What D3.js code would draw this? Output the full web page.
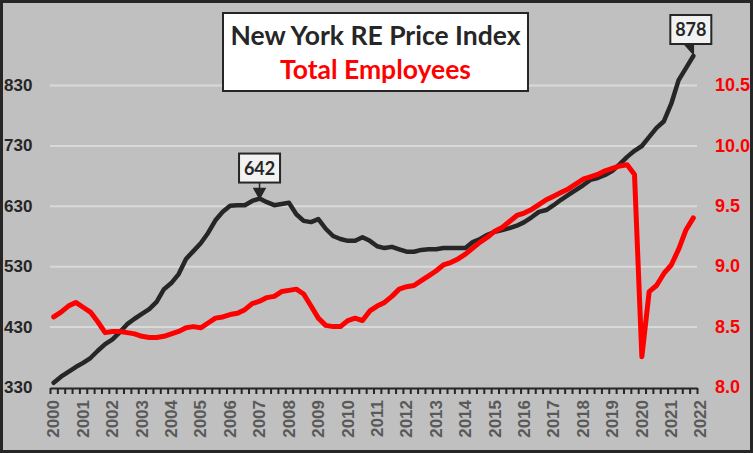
<!DOCTYPE html>
<meta charset="utf-8">
<title>New York RE Price Index vs Total Employees</title>
<style>
  body {
    margin: 0;
    background: #c0c0c0;
  }

  svg {
    display: block;
    font-family: Lato, "Noto Sans", sans-serif;
  }

  .grid line {
    stroke: #d9d9d9;
    stroke-width: 2px;
  }

  .axis-x path,
  .axis-x line {
    stroke: #262626;
    stroke-width: 2px;
  }

  .axis-x text {
    fill: #595959;
    font-size: 17px;
    font-weight: 700;
  }

  .axis-left text {
    fill: #262626;
    font-size: 17px;
    font-weight: 700;
  }

  .axis-right text {
    fill: #ff0000;
    font-size: 18px;
    font-weight: 700;
  }

  .series {
    fill: none;
    stroke-linejoin: round;
    stroke-linecap: round;
  }
</style>
<svg width="753" height="453"></svg>
<script src="https://cdn.jsdelivr.net/npm/d3@7"></script>
<script>
  // quarterly data, 2000Q1 .. 2021Q4
  var quarters = [
    "2000Q1", "2000Q2", "2000Q3", "2000Q4", "2001Q1", "2001Q2", "2001Q3", "2001Q4",
    "2002Q1", "2002Q2", "2002Q3", "2002Q4", "2003Q1", "2003Q2", "2003Q3", "2003Q4",
    "2004Q1", "2004Q2", "2004Q3", "2004Q4", "2005Q1", "2005Q2", "2005Q3", "2005Q4",
    "2006Q1", "2006Q2", "2006Q3", "2006Q4", "2007Q1", "2007Q2", "2007Q3", "2007Q4",
    "2008Q1", "2008Q2", "2008Q3", "2008Q4", "2009Q1", "2009Q2", "2009Q3", "2009Q4",
    "2010Q1", "2010Q2", "2010Q3", "2010Q4", "2011Q1", "2011Q2", "2011Q3", "2011Q4",
    "2012Q1", "2012Q2", "2012Q3", "2012Q4", "2013Q1", "2013Q2", "2013Q3", "2013Q4",
    "2014Q1", "2014Q2", "2014Q3", "2014Q4", "2015Q1", "2015Q2", "2015Q3", "2015Q4",
    "2016Q1", "2016Q2", "2016Q3", "2016Q4", "2017Q1", "2017Q2", "2017Q3", "2017Q4",
    "2018Q1", "2018Q2", "2018Q3", "2018Q4", "2019Q1", "2019Q2", "2019Q3", "2019Q4",
    "2020Q1", "2020Q2", "2020Q3", "2020Q4", "2021Q1", "2021Q2", "2021Q3", "2021Q4"
  ];

  // New York RE price index (left axis)
  var priceIndex = [
    337, 347, 355, 363, 370, 378, 390, 401,
    409, 421, 434, 443, 451, 459, 471, 492,
    502, 517, 542, 555, 568, 585, 606, 620,
    630, 631, 631, 638, 642, 636, 631, 633,
    635, 616, 605, 603, 608, 592, 580, 575,
    572, 572, 578, 572, 563, 560, 562, 558,
    554, 554, 557, 558, 558, 560, 560, 560,
    560, 570, 575, 582, 587, 590, 593, 597,
    603, 611, 620, 623, 631, 640, 648, 656,
    664, 673, 676, 681, 688, 699, 711, 721,
    729, 744, 759, 770, 799, 838, 858, 878
  ];

  // total employees, millions (right axis)
  var employees = [
    8.58, 8.62, 8.67, 8.70, 8.66, 8.62, 8.54, 8.45,
    8.46, 8.46, 8.45, 8.44, 8.42, 8.41, 8.41, 8.42,
    8.44, 8.46, 8.49, 8.50, 8.49, 8.53, 8.57, 8.58,
    8.60, 8.61, 8.64, 8.69, 8.71, 8.74, 8.75, 8.79,
    8.80, 8.81, 8.77, 8.67, 8.57, 8.51, 8.50, 8.50,
    8.55, 8.57, 8.55, 8.63, 8.67, 8.70, 8.75, 8.81,
    8.83, 8.84, 8.88, 8.92, 8.96, 9.01, 9.03, 9.06,
    9.10, 9.15, 9.20, 9.24, 9.29, 9.32, 9.37, 9.42,
    9.44, 9.47, 9.51, 9.55, 9.58, 9.61, 9.64, 9.68,
    9.72, 9.74, 9.76, 9.79, 9.81, 9.83, 9.84, 9.76,
    8.25, 8.79, 8.84, 8.94, 9.01, 9.14, 9.30, 9.40
  ];

  var yearLabels = [
    "2000", "2001", "2002", "2003", "2004", "2005", "2006", "2007", "2008", "2009", "2010",
    "2011", "2012", "2013", "2014", "2015", "2016", "2017", "2018", "2019", "2020", "2021", "2022"
  ];
  var leftTicks = [330, 430, 530, 630, 730, 830];
  var rightTicks = [8.0, 8.5, 9.0, 9.5, 10.0, 10.5];

  var svg = d3.select("svg"),
    width = +svg.attr("width"),
    height = +svg.attr("height");

  var plot = { left: 50, right: 697, top: 85, bottom: 387 };

  // position each quarter at its middle
  function qTime(q) {
    return +q.slice(0, 4) + (+q.slice(5) - 0.5) / 4;
  }

  var data = quarters.map(function(q, i) {
    return { t: qTime(q), price: priceIndex[i], emp: employees[i] };
  });

  var x = d3.scaleLinear()
    .domain([+yearLabels[0], +yearLabels[yearLabels.length - 1]])
    .range([plot.left, plot.right]);

  var yLeft = d3.scaleLinear()
    .domain([leftTicks[0], leftTicks[leftTicks.length - 1]])
    .range([plot.bottom, plot.top]);

  var yRight = d3.scaleLinear()
    .domain([rightTicks[0], rightTicks[rightTicks.length - 1]])
    .range([plot.bottom, plot.top]);

  // frame
  svg.append("rect")
    .attr("x", 1.5)
    .attr("y", 1.5)
    .attr("width", width - 3)
    .attr("height", height - 3)
    .attr("fill", "#c0c0c0")
    .attr("stroke", "#262626")
    .attr("stroke-width", 3);

  // gridlines
  svg.append("g")
    .attr("class", "grid")
    .attr("transform", "translate(" + plot.left + ",0)")
    .call(d3.axisLeft(yLeft)
      .tickValues(leftTicks.slice(1))
      .tickSize(-(plot.right - plot.left))
      .tickFormat(""))
    .call(function(g) { g.select(".domain").remove(); });

  // left axis labels
  svg.append("g")
    .attr("class", "axis-left")
    .call(d3.axisLeft(yLeft).tickValues(leftTicks).tickSize(0))
    .call(function(g) {
      g.select(".domain").remove();
      g.selectAll("text").attr("x", 4).attr("text-anchor", "start");
    });

  // right axis labels
  svg.append("g")
    .attr("class", "axis-right")
    .attr("transform", "translate(715,0)")
    .call(d3.axisRight(yRight).tickValues(rightTicks).tickSize(0).tickPadding(0)
      .tickFormat(d3.format(".1f")))
    .call(function(g) { g.select(".domain").remove(); });

  // x axis: quarter ticks + rotated year labels
  var quarterTicks = d3.range(0, (yearLabels.length - 1) * 4 + 1).map(function(i) {
    return +yearLabels[0] + i / 4;
  });

  svg.append("g")
    .attr("class", "axis-x")
    .attr("transform", "translate(0," + (plot.bottom + 1) + ")")
    .call(d3.axisBottom(x).tickValues(quarterTicks).tickSize(6).tickSizeOuter(0).tickFormat(""));

  svg.append("g")
    .attr("class", "axis-x")
    .attr("transform", "translate(0," + (plot.bottom + 1) + ")")
    .call(d3.axisBottom(x).tickValues(yearLabels.map(Number)).tickSize(0).tickFormat(d3.format("d")))
    .call(function(g) {
      g.select(".domain").remove();
      g.selectAll("text")
        .attr("transform", "rotate(-90)")
        .attr("x", -12)
        .attr("y", 3)
        .attr("dy", "0.35em")
        .attr("text-anchor", "end");
    });

  // series
  var linePrice = d3.line()
    .x(function(d) { return x(d.t); })
    .y(function(d) { return yLeft(d.price); });

  var lineEmp = d3.line()
    .x(function(d) { return x(d.t); })
    .y(function(d) { return yRight(d.emp); });

  svg.append("path")
    .datum(data)
    .attr("class", "series")
    .attr("stroke", "#262626")
    .attr("stroke-width", 4.5)
    .attr("d", linePrice);

  svg.append("path")
    .datum(data)
    .attr("class", "series")
    .attr("stroke", "#ff0000")
    .attr("stroke-width", 5)
    .attr("d", lineEmp);

  // title box
  var title = svg.append("g");
  title.append("rect")
    .attr("x", 223)
    .attr("y", 13)
    .attr("width", 305)
    .attr("height", 78)
    .attr("fill", "#fff")
    .attr("stroke", "#262626")
    .attr("stroke-width", 2);
  title.append("text")
    .attr("x", 375.5)
    .attr("y", 45)
    .attr("text-anchor", "middle")
    .attr("fill", "#262626")
    .style("font-size", "26.5px")
    .style("font-weight", 700)
    .text("New York RE Price Index");
  title.append("text")
    .attr("x", 375.5)
    .attr("y", 79)
    .attr("text-anchor", "middle")
    .attr("fill", "#ff0000")
    .style("font-size", "26.5px")
    .style("font-weight", 700)
    .text("Total Employees");

  // callouts
  var peak = data.slice(0, 40).reduce(function(a, b) { return b.price > a.price ? b : a; });
  var last = data[data.length - 1];

  function callout(d, bx, by, pointer) {
    var g = svg.append("g");
    var px = x(d.t), py = yLeft(d.price);
    g.append("path")
      .attr("d", pointer(px, py))
      .attr("fill", "#262626")
      .attr("stroke", "#262626")
      .attr("stroke-width", 1.5);
    g.append("rect")
      .attr("x", px + bx)
      .attr("y", py + by)
      .attr("width", 41)
      .attr("height", 29)
      .attr("fill", "#f2f2f2")
      .attr("stroke", "#262626")
      .attr("stroke-width", 2);
    g.append("text")
      .attr("x", px + bx + 20.5)
      .attr("y", py + by + 21)
      .attr("text-anchor", "middle")
      .attr("fill", "#262626")
      .style("font-size", "18px")
      .style("font-weight", 700)
      .text(d3.format("d")(d.price));
  }

  callout(peak, -20.5, -45, function(px, py) {
    return "M" + px + "," + (py - 16) + "V" + (py - 8) +
      "M" + (px - 5.5) + "," + (py - 10) + "L" + (px + 5.5) + "," + (py - 10) + "L" + px + "," + py + "Z";
  });

  callout(last, -23, -41, function(px, py) {
    return "M" + (px - 9) + "," + (py - 12) + "L" + px + "," + (py - 12) + "L" + px + "," + (py - 2) + "Z";
  });
</script>
